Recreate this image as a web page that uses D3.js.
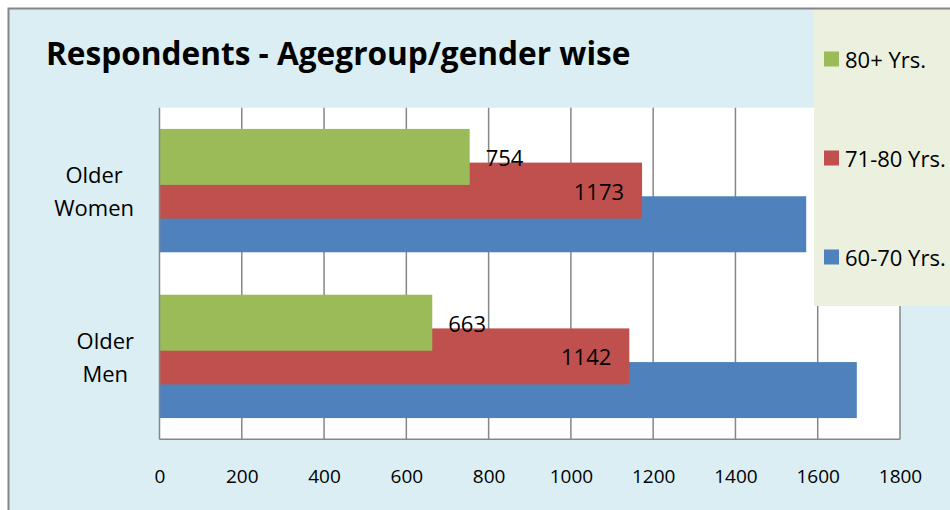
<!DOCTYPE html>
<html>
<head>
<meta charset="utf-8">
<script src="https://cdn.jsdelivr.net/npm/d3@7"></script>
<style>
  body { margin: 0; background: #ffffff; }
  svg { display: block; font-family: "Open Sans", sans-serif; }
</style>
</head>
<body>
<svg id="chart" width="950" height="510"></svg>
<script>
// chart data
const categories = ["Older Women", "Older Men"];
const seriesNames = ["60-70 Yrs.", "71-80 Yrs.", "80+ Yrs."];
const values6070 = [1572, 1695];
const values7180 = [1173, 1142];
const values80plus = [754, 663];
const xTicks = [0, 200, 400, 600, 800, 1000, 1200, 1400, 1600, 1800];

const colors = {"60-70 Yrs.": "#4F81BD", "71-80 Yrs.": "#C0504D", "80+ Yrs.": "#9BBB59"};
const seriesValues = {"60-70 Yrs.": values6070, "71-80 Yrs.": values7180, "80+ Yrs.": values80plus};

const plot = {left: 159.5, right: 900, top: 107.7, bottom: 439.3};

const svg = d3.select('#chart');

// outer chart area
svg.append('rect')
   .attr('x', 8.5).attr('y', 8.5)
   .attr('width', 960).attr('height', 520)
   .attr('fill', '#DAEEF3')
   .attr('stroke', '#868686')
   .attr('stroke-width', 2);

// plot area
svg.append('rect')
   .attr('x', plot.left).attr('y', plot.top)
   .attr('width', plot.right - plot.left)
   .attr('height', plot.bottom - plot.top)
   .attr('fill', '#ffffff');

const xScale = d3.scaleLinear().domain([0, 1800]).range([plot.left, plot.right]);
const yScale = d3.scaleBand()
                 .domain(categories)
                 .range([plot.top, plot.bottom])
                 .paddingInner(0.256)
                 .paddingOuter(0.128);

// bars overlap each other inside a category
const barHeight = yScale.bandwidth() * 0.454;
const subScale = d3.scalePoint()
                   .domain(["80+ Yrs.", "71-80 Yrs.", "60-70 Yrs."])
                   .range([0, yScale.bandwidth() - barHeight]);

// gridlines
svg.append('g')
   .selectAll('line')
   .data(xTicks.slice(1))
   .enter()
   .append('line')
   .attr('x1', d => xScale(d)).attr('x2', d => xScale(d))
   .attr('y1', plot.top).attr('y2', plot.bottom)
   .attr('stroke', '#868686')
   .attr('stroke-width', 1.5);

// bars, drawn blue first so that later series sit on top
seriesNames.forEach(s => {
  svg.append('g')
     .selectAll('rect')
     .data(categories)
     .enter()
     .append('rect')
     .attr('x', xScale(0))
     .attr('y', (c) => yScale(c) + subScale(s))
     .attr('width', (c, i) => xScale(seriesValues[s][i]) - xScale(0))
     .attr('height', barHeight)
     .attr('fill', colors[s]);
});

// axis lines
svg.append('line')
   .attr('x1', plot.left).attr('x2', plot.left)
   .attr('y1', plot.top).attr('y2', plot.bottom)
   .attr('stroke', '#868686').attr('stroke-width', 1.5);
svg.append('line')
   .attr('x1', plot.left).attr('x2', plot.right)
   .attr('y1', plot.bottom).attr('y2', plot.bottom)
   .attr('stroke', '#868686').attr('stroke-width', 1.5);

// x axis labels
const xAxis = svg.append('g')
   .attr('transform', `translate(0, ${plot.bottom})`)
   .call(d3.axisBottom(xScale).tickValues(xTicks).tickFormat(d3.format('d')).tickSize(0));
xAxis.select('.domain').remove();
xAxis.selectAll('text')
     .attr('font-family', '"Open Sans", sans-serif')
     .attr('font-size', 19)
     .attr('fill', '#000')
     .attr('dy', '0.35em')
     .attr('y', 37);

// category labels, two lines each, block right aligned
categories.forEach(c => {
  const lines = c.split(' ');
  const g = svg.append('g');
  const texts = g.selectAll('text')
     .data(lines)
     .enter()
     .append('text')
     .text(d => d)
     .attr('font-size', 22)
     .attr('text-anchor', 'middle')
     .attr('dominant-baseline', 'central')
     .attr('y', (d, i) => yScale(c) + yScale.bandwidth() / 2 + (i - (lines.length - 1) / 2) * 33);
  let maxW = 0;
  texts.each(function(){ maxW = Math.max(maxW, this.getComputedTextLength()); });
  texts.attr('x', 134 - maxW / 2);
});

// data labels: 80+ outside end, 71-80 inside end
svg.append('g')
   .selectAll('text')
   .data(categories)
   .enter()
   .append('text')
   .text((c, i) => values80plus[i])
   .attr('x', (c, i) => xScale(values80plus[i]) + 16)
   .attr('y', c => yScale(c) + subScale("80+ Yrs.") + barHeight / 2)
   .attr('dominant-baseline', 'central')
   .attr('font-size', 22);

svg.append('g')
   .selectAll('text')
   .data(categories)
   .enter()
   .append('text')
   .text((c, i) => values7180[i])
   .attr('x', (c, i) => xScale(values7180[i]) - 18)
   .attr('y', c => yScale(c) + subScale("71-80 Yrs.") + barHeight / 2)
   .attr('text-anchor', 'end')
   .attr('dominant-baseline', 'central')
   .attr('font-size', 22);

// title
svg.append('text')
   .text('Respondents - Agegroup/gender wise')
   .attr('x', 46)
   .attr('y', 65)
   .attr('font-weight', 'bold')
   .attr('font-size', 31.6);

// legend
svg.append('rect')
   .attr('x', 814).attr('y', 10)
   .attr('width', 150).attr('height', 296)
   .attr('fill', '#EBF1DE');

const legendY = d3.scalePoint()
                  .domain(["80+ Yrs.", "71-80 Yrs.", "60-70 Yrs."])
                  .range([59, 257]);

const legend = svg.append('g')
   .selectAll('g')
   .data(legendY.domain())
   .enter()
   .append('g')
   .attr('transform', d => `translate(824, ${legendY(d)})`);

legend.append('rect')
      .attr('x', 0).attr('y', -7.5)
      .attr('width', 15).attr('height', 15)
      .attr('fill', d => colors[d]);

legend.append('text')
      .text(d => d)
      .attr('x', 21)
      .attr('dominant-baseline', 'central')
      .attr('font-size', 22);
</script>
</body>
</html>
